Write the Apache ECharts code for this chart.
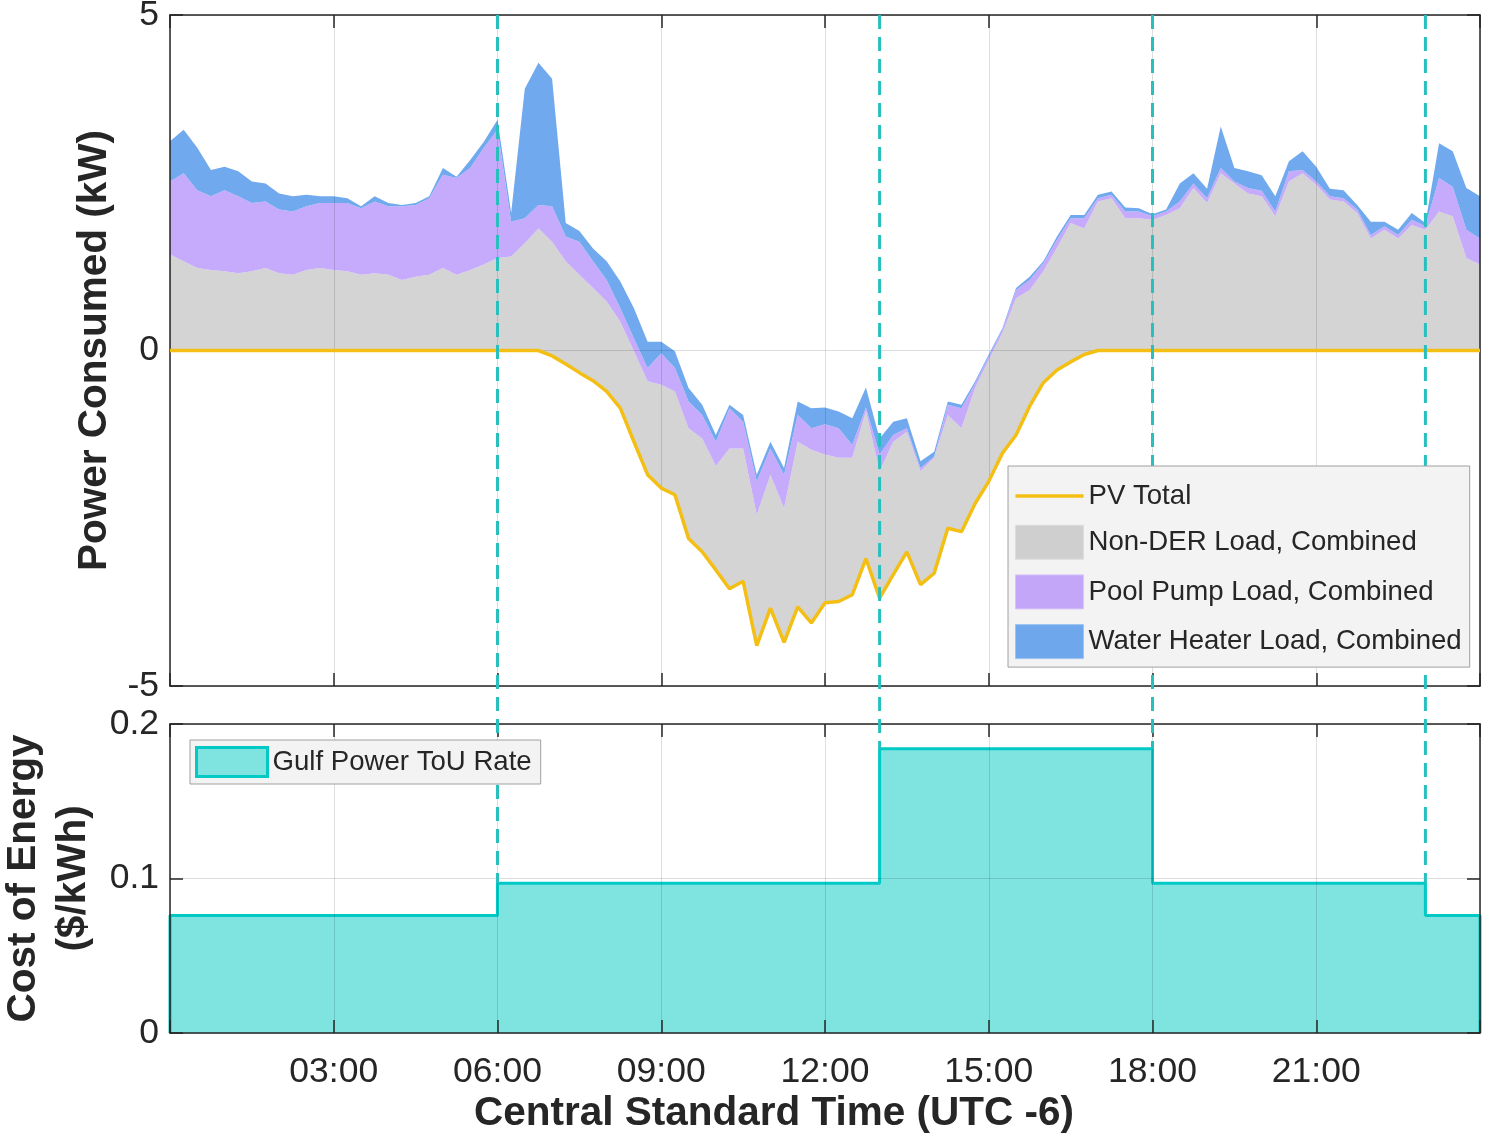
<!DOCTYPE html>
<html>
<head>
<meta charset="utf-8">
<script src="https://cdn.jsdelivr.net/npm/echarts@6/dist/echarts.min.js"></script>
<style>
html,body{margin:0;padding:0;background:#ffffff;}
#c{width:1485px;height:1139px;}
</style>
</head>
<body>
<div id="c"></div>
<script>
// ---------------- DATA (15-minute samples, 00:00 .. 24:00) ----------------
const sampleStepHours = 0.25;

const pvTotal = [
  0,0,0,0, 0,0,0,0, 0,0,0,0, 0,0,0,0,
  0,0,0,0, 0,0,0,0, 0,0,0,0,
  -0.08,-0.20,-0.33,-0.45,
  -0.61,-0.86,-1.36,-1.85,
  -2.05,-2.15,-2.80,-3.00,
  -3.27,-3.55,-3.44,-4.40,
  -3.84,-4.35,-3.82,-4.06,
  -3.76,-3.74,-3.64,-3.10,
  -3.69,-3.34,-3.00,-3.49,
  -3.32,-2.65,-2.70,-2.28,
  -1.95,-1.53,-1.26,-0.83,
  -0.48,-0.29,-0.17,-0.06,
  0,0,0,0, 0,0,0,0, 0,0,0,0, 0,0,0,0,
  0,0,0,0, 0,0,0,0, 0,0,0,0, 0
];

const nonDerLoad = [
  1.43,1.33,1.23,1.20, 1.18,1.15,1.18,1.23, 1.15,1.13,1.20,1.23, 1.20,1.18,1.13,1.15,
  1.13,1.05,1.10,1.13, 1.23,1.13,1.20,1.28, 1.38,1.40,1.60,1.82,
  1.70,1.53,1.46,1.38,
  1.34,1.29,1.35,1.39,
  1.54,1.54,1.64,1.69,
  1.55,2.09,1.98,1.95,
  1.99,2.00,2.46,2.58,
  2.21,2.14,2.04,2.20,
  1.89,1.98,1.79,1.69,
  1.72,1.69,1.54,1.72,
  1.81,1.79,2.04,1.73,
  1.66,1.82,2.07,1.88,
  2.22,2.27,1.97,1.97,
  1.95,2.02,2.12,2.42,
  2.20,2.64,2.49,2.34,
  2.30,2.00,2.52,2.64,
  2.47,2.25,2.22,2.05,
  1.67,1.80,1.67,1.87,
  1.80,2.07,2.00,1.38,
  1.28
];

const poolPumpLoad = [
  1.09,1.31,1.16,1.10, 1.21,1.15,1.02,0.99, 0.95,0.94,0.95,0.97, 1.00,1.02,0.99,1.07,
  1.02,1.10,1.07,1.14, 1.39,1.44,1.52,1.74, 1.91,0.52,0.37,0.35,
  0.53,0.37,0.49,0.40,
  0.32,0.20,0.19,0.20,
  0.47,0.35,0.40,0.35,
  0.36,0.60,0.40,0.50,
  0.39,0.50,0.40,0.32,
  0.45,0.44,0.19,0.05,
  0.25,0.10,0.05,0.05,
  0.02,0.15,0.30,0.07,
  0.05,0.05,0.12,0.15,
  0.12,0.12,0.07,0.15,
  0.05,0.05,0.10,0.10,
  0.05,0.05,0.10,0.07,
  0.07,0.08,0.03,0.08,
  0.08,0.07,0.15,0.05,
  0.05,0.05,0.05,0.05,
  0.05,0.05,0.05,0.08,
  0.05,0.50,0.44,0.42,
  0.39
];

const waterHeaterLoad = [
  0.60,0.65,0.63,0.39, 0.35,0.37,0.32,0.27, 0.24,0.23,0.17,0.10, 0.10,0.07,0.03,0.08,
  0.05,0.02,0.03,0.03, 0.10,0.02,0.12,0.09, 0.15,0.13,1.93,2.12,
  1.90,0.20,0.16,0.19,
  0.28,0.40,0.45,0.39,
  0.17,0.25,0.20,0.15,
  0.10,0.05,0.10,0.10,
  0.10,0.10,0.20,0.30,
  0.25,0.25,0.40,0.30,
  0.24,0.20,0.15,0.10,
  0.07,0.05,0.05,0.03,
  0.03,0.02,0.03,0.05,
  0.03,0.05,0.05,0.05,
  0.05,0.05,0.06,0.05,
  0.03,0.03,0.27,0.15,
  0.14,0.62,0.20,0.25,
  0.23,0.23,0.15,0.28,
  0.22,0.11,0.12,0.07,
  0.20,0.07,0.08,0.10,
  0.05,0.52,0.53,0.62,
  0.63
];

// Time-of-use tariff: period boundaries (hours) and rate in each period ($/kWh)
const touBoundaries = [0, 6, 13, 18, 23, 24];
const touRates = [0.076, 0.097, 0.184, 0.097, 0.076];

// Tick labels for x (every 3 h)
const timeTickLabels = ['', '03:00', '06:00', '09:00', '12:00', '15:00', '18:00', '21:00', ''];

// ---------------- STYLE ----------------
const FONT = "'Liberation Sans', Arial, Helvetica, sans-serif";
const AX = '#262626';
const GRID_C = 'rgba(0,0,0,0.13)';
const C_PV = '#f3bf14';
const C_GRAY = '#d4d4d4';
const C_PURPLE = '#c6aafb';
const C_BLUE = '#70a9ee';
const C_TEAL_FILL = '#7fe3e0';
const C_TEAL_LINE = '#00c9c6';
const C_TEAL_DASH = '#27c0bf';

const times = pvTotal.map((_, i) => i * sampleStepHours);
const samplesPerTick = Math.round(3 / sampleStepHours);

const touPoints = [[touBoundaries[0], 0]];
touRates.forEach((r, i) => {
  touPoints.push([touBoundaries[i], r]);
  touPoints.push([touBoundaries[i + 1], r]);
});
touPoints.push([touBoundaries[touBoundaries.length - 1], 0]);

const axLine = { show: true, onZero: false, lineStyle: { color: AX, width: 1.5 } };
const axTick = { show: true, inside: true, length: 13, lineStyle: { color: AX, width: 1.5 } };
const tickEvery = (idx) => idx % samplesPerTick === 0;

// top panel x axes: category over the 15-minute samples
function xCatDef(position, withSplit) {
  return {
    gridIndex: 0, type: 'category', data: times, boundaryGap: false, position, z: 5,
    axisLine: axLine,
    axisTick: Object.assign({ interval: tickEvery, alignWithLabel: true }, axTick),
    axisLabel: { show: false, interval: tickEvery },
    splitLine: { show: withSplit, interval: tickEvery, lineStyle: { color: GRID_C, width: 1 } }
  };
}
function xValDef(position, showLabels, withSplit, extra) {
  return Object.assign({
    gridIndex: 1, type: 'value', min: 0, max: 24, interval: 3, position, z: 5,
    axisLine: axLine, axisTick: axTick,
    axisLabel: {
      show: showLabels, margin: 21, fontSize: 35.5, color: AX, fontFamily: FONT,
      formatter: v => timeTickLabels[Math.round(v / 3)] || ''
    },
    splitLine: { show: withSplit, lineStyle: { color: GRID_C, width: 1 } }
  }, extra || {});
}
function yAxisDef(gridIndex, position, min, max, interval, showLabels, withSplit, extra) {
  return Object.assign({
    gridIndex, type: 'value', min, max, interval, position, z: 5,
    axisLine: axLine, axisTick: axTick,
    axisLabel: { show: showLabels, margin: 11, fontSize: 35.5, color: AX, fontFamily: FONT },
    splitLine: { show: withSplit, lineStyle: { color: GRID_C, width: 1 } }
  }, extra || {});
}

const titleStyle = { fontSize: 40.5, fontWeight: 'bold', color: AX, fontFamily: FONT };

const stackBase = { type: 'line', xAxisIndex: 0, yAxisIndex: 0, stack: 'power', stackStrategy: 'all',
  symbol: 'none', showSymbol: false, animation: false };

const option = {
  backgroundColor: '#ffffff',
  animation: false,
  grid: [
    { left: 170, right: 5, top: 15, height: 671, containLabel: false, outerBoundsMode: 'none' },
    { left: 170, right: 5, top: 724, height: 309, containLabel: false, outerBoundsMode: 'none' }
  ],
  xAxis: [
    xCatDef('bottom', true),
    xCatDef('top', false),
    xValDef('bottom', true, true, {
      name: 'Central Standard Time (UTC -6)', nameLocation: 'middle', nameGap: 60,
      nameTextStyle: Object.assign({ padding: [0, 102, 0, 0] }, titleStyle)
    }),
    xValDef('top', false, false)
  ],
  yAxis: [
    yAxisDef(0, 'left', -5, 5, 5, true, true, {
      name: 'Power Consumed (kW)', nameLocation: 'middle', nameGap: 55, nameRotate: 90,
      nameTextStyle: titleStyle
    }),
    yAxisDef(0, 'right', -5, 5, 5, false, false),
    yAxisDef(1, 'left', 0, 0.2, 0.1, true, true, {
      name: 'Cost of Energy\n($/kWh)', nameLocation: 'middle', nameGap: 70, nameRotate: 90,
      nameTextStyle: Object.assign({ lineHeight: 50, align: 'center' }, titleStyle)
    }),
    yAxisDef(1, 'right', 0, 0.2, 0.1, false, false)
  ],
  legend: [
    {
      orient: 'vertical', left: 1008, top: 466, padding: [16, 8, 8, 7],
      itemWidth: 68, itemHeight: 34, itemGap: 14.7, selectedMode: false, z: 10,
      backgroundColor: '#f3f3f3', borderColor: '#a0a0a0', borderWidth: 1, borderRadius: 0,
      textStyle: { fontSize: 27.6, color: AX, fontFamily: FONT },
      data: [
        { name: 'PV Total', icon: 'path://M0 0H68V3.5H0Z', itemStyle: { color: C_PV, borderWidth: 0 } },
        { name: 'Non-DER Load, Combined', icon: 'rect', itemStyle: { color: '#cfcfcf', borderColor: '#dddddd', borderWidth: 1 } },
        { name: 'Pool Pump Load, Combined', icon: 'rect', itemStyle: { color: '#c3a6f8', borderColor: '#d6c4fa', borderWidth: 1 } },
        { name: 'Water Heater Load, Combined', icon: 'rect', itemStyle: { color: '#6ea7ec', borderColor: '#9cc3f2', borderWidth: 1 } }
      ]
    },
    {
      orient: 'vertical', left: 190, top: 740, padding: [6, 9, 6, 5],
      itemWidth: 71, itemHeight: 29, selectedMode: false, z: 10,
      backgroundColor: '#f3f3f3', borderColor: '#a0a0a0', borderWidth: 1, borderRadius: 0,
      textStyle: { fontSize: 27.6, color: AX, fontFamily: FONT },
      data: [
        { name: 'Gulf Power ToU Rate', icon: 'rect', itemStyle: { color: C_TEAL_FILL, borderColor: C_TEAL_LINE, borderWidth: 3 } }
      ]
    }
  ],
  series: [
    Object.assign({}, stackBase, {
      name: 'PV Total', data: pvTotal, z: 5.5,
      color: C_PV, itemStyle: { color: C_PV },
      lineStyle: { color: C_PV, width: 3.5 }
    }),
    Object.assign({}, stackBase, {
      name: 'Non-DER Load, Combined', data: nonDerLoad, z: 2,
      color: C_GRAY, itemStyle: { color: C_GRAY },
      lineStyle: { width: 0, opacity: 0 }, areaStyle: { color: C_GRAY, opacity: 1 }
    }),
    Object.assign({}, stackBase, {
      name: 'Pool Pump Load, Combined', data: poolPumpLoad, z: 2,
      color: C_PURPLE, itemStyle: { color: C_PURPLE },
      lineStyle: { width: 0, opacity: 0 }, areaStyle: { color: C_PURPLE, opacity: 1 }
    }),
    Object.assign({}, stackBase, {
      name: 'Water Heater Load, Combined', data: waterHeaterLoad, z: 2,
      color: C_BLUE, itemStyle: { color: C_BLUE },
      lineStyle: { width: 0, opacity: 0 }, areaStyle: { color: C_BLUE, opacity: 1 }
    }),
    {
      name: 'Gulf Power ToU Rate', type: 'line', xAxisIndex: 2, yAxisIndex: 2,
      data: touPoints, symbol: 'none', showSymbol: false, z: 2, animation: false,
      color: C_TEAL_FILL, itemStyle: { color: C_TEAL_FILL },
      lineStyle: { color: C_TEAL_LINE, width: 3 },
      areaStyle: { color: C_TEAL_FILL, opacity: 1 }
    }
  ]
};

const chart = echarts.init(document.getElementById('c'), null, { renderer: 'canvas' });
chart.setOption(option);

// Dashed tariff-change markers spanning both panels, positioned via the axes' own scales
const switchTimes = touBoundaries.slice(1, -1);
const yTopPx = chart.convertToPixel({ yAxisIndex: 0 }, 5);
const dashEls = switchTimes.map((t, k) => {
  const level = Math.max(touRates[k], touRates[k + 1]);
  const p2 = chart.convertToPixel({ gridIndex: 1 }, [t, level]);
  return {
    type: 'line', silent: true, z: 6,
    shape: { x1: p2[0], y1: yTopPx, x2: p2[0], y2: p2[1] },
    style: { stroke: C_TEAL_DASH, lineWidth: 3, lineDash: [14, 8] }
  };
});
chart.setOption({ graphic: { elements: dashEls } });
</script>
</body>
</html>
